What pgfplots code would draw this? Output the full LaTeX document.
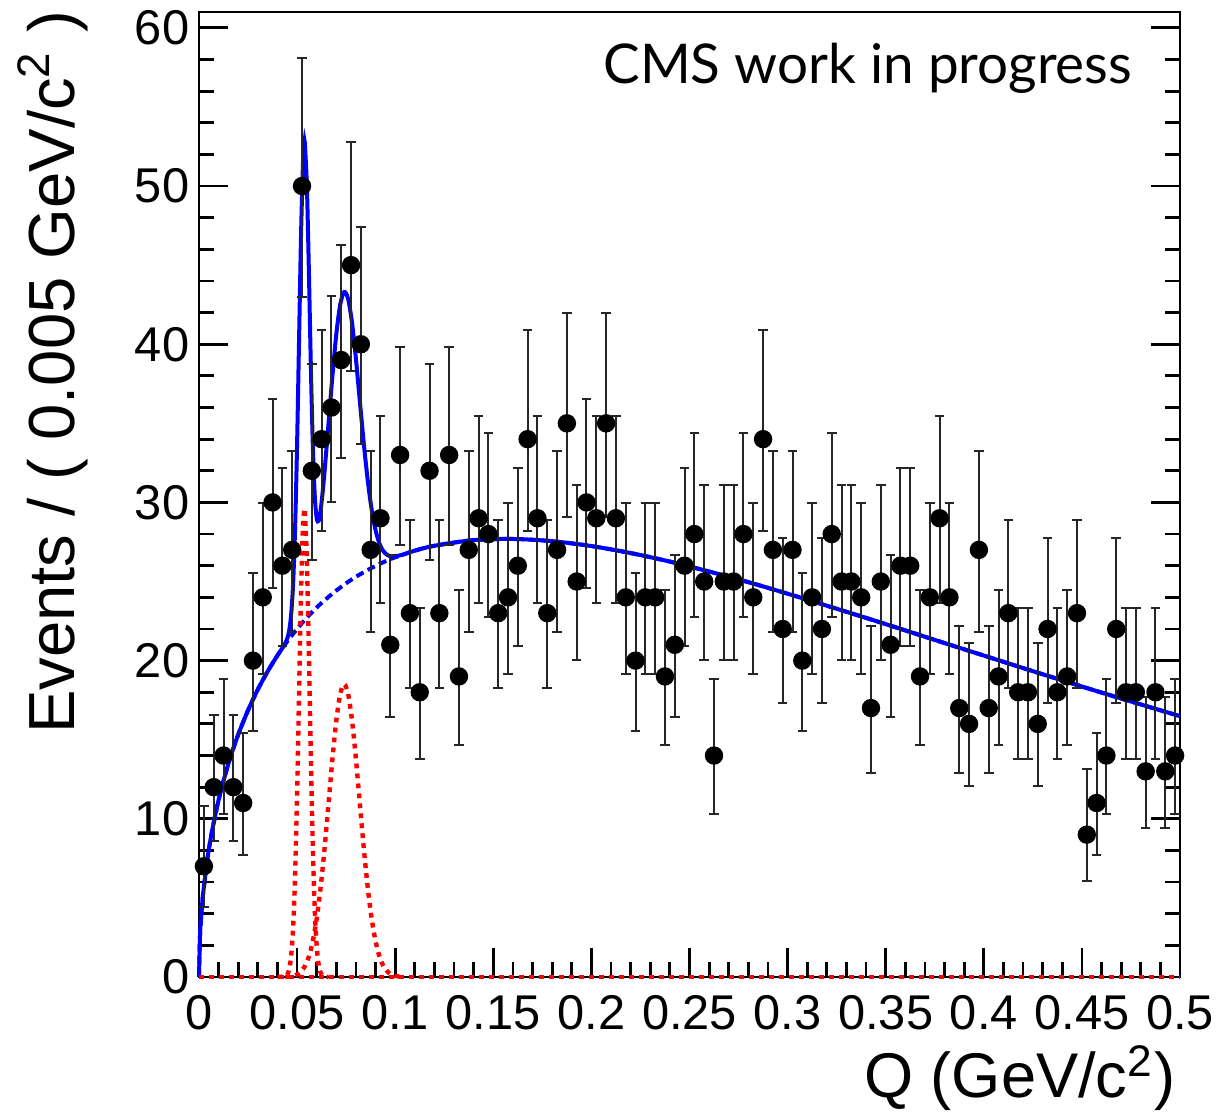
\documentclass[border=0pt]{standalone}
\usepackage{pgfplots}
\pgfplotsset{compat=1.18}
\usepackage{pgfplotstable}
\usepackage{fontspec}
\setmainfont{Liberation Sans}
\newfontfamily\gillfont{Lato}

\pgfplotstableread{
x y ep em
0.0025 7 3.78 2.58
0.0075 12 4.57 3.41
0.0125 14 4.84 3.69
0.0175 12 4.57 3.41
0.0225 11 4.43 3.26
0.0275 20 5.56 4.43
0.0325 24 5.97 4.86
0.0375 30 6.55 5.44
0.0425 26 6.17 5.06
0.0475 27 6.27 5.16
0.0525 50 8.12 7.04
0.0575 32 6.72 5.62
0.0625 34 6.89 5.80
0.0675 36 7.06 5.97
0.0725 39 7.30 6.22
0.0775 45 7.76 6.68
0.0825 40 7.38 6.30
0.0875 27 6.27 5.16
0.0925 29 6.45 5.35
0.0975 21 5.66 4.54
0.1025 33 6.81 5.71
0.1075 23 5.87 4.76
0.1125 18 5.33 4.20
0.1175 32 6.72 5.62
0.1225 23 5.87 4.76
0.1275 33 6.81 5.71
0.1325 19 5.44 4.32
0.1375 27 6.27 5.16
0.1425 29 6.45 5.35
0.1475 28 6.36 5.26
0.1525 23 5.87 4.76
0.1575 24 5.97 4.86
0.1625 26 6.17 5.06
0.1675 34 6.89 5.80
0.1725 29 6.45 5.35
0.1775 23 5.87 4.76
0.1825 27 6.27 5.16
0.1875 35 6.98 5.89
0.1925 25 6.07 4.96
0.1975 30 6.55 5.44
0.2025 29 6.45 5.35
0.2075 35 6.98 5.89
0.2125 29 6.45 5.35
0.2175 24 5.97 4.86
0.2225 20 5.56 4.43
0.2275 24 5.97 4.86
0.2325 24 5.97 4.86
0.2375 19 5.44 4.32
0.2425 21 5.66 4.54
0.2475 26 6.17 5.06
0.2525 28 6.36 5.26
0.2575 25 6.07 4.96
0.2625 14 4.84 3.69
0.2675 25 6.07 4.96
0.2725 25 6.07 4.96
0.2775 28 6.36 5.26
0.2825 24 5.97 4.86
0.2875 34 6.89 5.80
0.2925 27 6.27 5.16
0.2975 22 5.77 4.65
0.3025 27 6.27 5.16
0.3075 20 5.56 4.43
0.3125 24 5.97 4.86
0.3175 22 5.77 4.65
0.3225 28 6.36 5.26
0.3275 25 6.07 4.96
0.3325 25 6.07 4.96
0.3375 24 5.97 4.86
0.3425 17 5.21 4.08
0.3475 25 6.07 4.96
0.3525 21 5.66 4.54
0.3575 26 6.17 5.06
0.3625 26 6.17 5.06
0.3675 19 5.44 4.32
0.3725 24 5.97 4.86
0.3775 29 6.45 5.35
0.3825 24 5.97 4.86
0.3875 17 5.21 4.08
0.3925 16 5.09 3.95
0.3975 27 6.27 5.16
0.4025 17 5.21 4.08
0.4075 19 5.44 4.32
0.4125 23 5.87 4.76
0.4175 18 5.33 4.20
0.4225 18 5.33 4.20
0.4275 16 5.09 3.95
0.4325 22 5.77 4.65
0.4375 18 5.33 4.20
0.4425 19 5.44 4.32
0.4475 23 5.87 4.76
0.4525 9 4.12 2.94
0.4575 11 4.43 3.26
0.4625 14 4.84 3.69
0.4675 22 5.77 4.65
0.4725 18 5.33 4.20
0.4775 18 5.33 4.20
0.4825 13 4.71 3.55
0.4875 18 5.33 4.20
0.4925 13 4.71 3.55
0.4975 14 4.84 3.69
}\datatable

\begin{document}
\begin{tikzpicture}
\begin{axis}[
  at={(0,0)}, anchor=south west,
  scale only axis, width=245.25pt, height=241.25pt,
  xmin=0, xmax=0.5, ymin=0, ymax=61,
  xtick={0,0.05,0.1,0.15,0.2,0.25,0.3,0.35,0.4,0.45,0.5},
  xticklabels={0,0.05,0.1,0.15,0.2,0.25,0.3,0.35,0.4,0.45,0.5},
  ytick={0,10,20,30,40,50,60},
  yticklabels={0,10,20,30,40,50,60},
  minor x tick num=4, minor y tick num=4,
  xtick pos=left, ytick pos=both, yticklabel pos=left,
  tick align=inside,
  major tick length=7.3pt, minor tick length=3.7pt,
  axis line style={line width=0.7pt},
  every tick/.style={line width=0.7pt, black},
  tick label style={font=\fontsize{12.2}{14}\selectfont},
  /pgf/number format/assume math mode=true,
  xticklabel style={anchor=north, inner sep=0pt, yshift=-4.5pt},
  yticklabel style={anchor=east, inner sep=0pt, xshift=-2.25pt},
  clip=false,
]
% background (dashed)
\addplot[blue, line width=1pt, dash pattern=on 2pt off 1.2pt, smooth] coordinates {
(0,0) (0.0005,2.58) (0.001,3.64) (0.002,5.13) (0.004,7.21) (0.006,8.78) (0.009,10.65)
(0.012,12.18) (0.016,13.89) (0.02,15.33) (0.025,16.86) (0.03,18.18) (0.035,19.32)
(0.04,20.33) (0.045,21.22) (0.05,22.01) (0.055,22.72) (0.06,23.36) (0.065,23.92)
(0.07,24.43) (0.075,24.89) (0.08,25.30) (0.085,25.66) (0.09,25.99) (0.095,26.28)
(0.1,26.53) (0.11,26.95) (0.12,27.26) (0.14,27.62) (0.16,27.69) (0.18,27.55)
(0.2,27.24) (0.22,26.80) (0.24,26.26) (0.26,25.63) (0.28,24.96) (0.3,24.23)
(0.32,23.47) (0.34,22.70) (0.36,21.91) (0.38,21.11) (0.4,20.32) (0.42,19.53)
(0.44,18.75) (0.46,17.98) (0.48,17.23) (0.5,16.49)};
% total fit
\addplot[blue, line width=1pt, smooth] coordinates {
(0,0) (0.0005,2.58) (0.001,3.64) (0.002,5.13) (0.004,7.21) (0.006,8.78) (0.009,10.65)
(0.012,12.18) (0.016,13.89) (0.02,15.33) (0.025,16.86) (0.03,18.18) (0.035,19.32)
(0.04,20.33) (0.042,20.70) (0.044,21.10) (0.045,21.40) (0.046,21.92) (0.047,22.95)
(0.048,24.95) (0.049,28.45) (0.050,33.71) (0.051,40.29) (0.052,46.85) (0.053,51.45)
(0.0537,52.66) (0.054,52.59) (0.055,49.94) (0.056,44.66) (0.057,38.68) (0.058,33.66)
(0.059,30.44) (0.060,28.99) (0.061,28.84) (0.062,29.51) (0.063,30.63) (0.064,31.96)
(0.066,34.96) (0.068,37.99) (0.070,40.65) (0.072,42.51) (0.074,43.30) (0.076,42.87)
(0.078,41.35) (0.080,39.06) (0.082,36.37) (0.084,33.72) (0.086,31.40) (0.088,29.55)
(0.090,28.25) (0.092,27.39) (0.094,26.91) (0.096,26.68) (0.098,26.59) (0.100,26.60)
(0.102,26.64) (0.104,26.70) (0.11,26.95) (0.12,27.26) (0.14,27.62) (0.16,27.69)
(0.18,27.55) (0.2,27.24) (0.22,26.80) (0.24,26.26) (0.26,25.63) (0.28,24.96)
(0.3,24.23) (0.32,23.47) (0.34,22.70) (0.36,21.91) (0.38,21.11) (0.4,20.32)
(0.42,19.53) (0.44,18.75) (0.46,17.98) (0.48,17.23) (0.5,16.49)};
% signal components
\addplot[red, line width=1.1pt, dash pattern=on 1.2pt off 1.3pt] coordinates {(0,0) (0.5,0)};
\addplot[red, line width=1.1pt, dash pattern=on 1.2pt off 1.3pt, smooth] coordinates {
(0.040,0) (0.044,0.05) (0.045,0.16) (0.046,0.51) (0.047,1.36) (0.048,3.18) (0.049,6.48)
(0.050,11.54) (0.051,17.89) (0.052,24.20) (0.053,28.52) (0.0537,29.5) (0.054,29.32)
(0.055,26.27) (0.056,20.52) (0.057,13.98) (0.058,8.30) (0.059,4.30) (0.060,1.94)
(0.061,0.76) (0.062,0.26) (0.063,0.08) (0.064,0.02) (0.066,0)};
\addplot[red, line width=1.1pt, dash pattern=on 1.2pt off 1.3pt, smooth] coordinates {
(0.044,0.01) (0.046,0.03) (0.048,0.07) (0.050,0.16) (0.052,0.35) (0.054,0.69)
(0.056,1.29) (0.058,2.26) (0.060,3.69) (0.062,5.67) (0.064,8.13) (0.066,10.93)
(0.068,13.76) (0.070,16.22) (0.072,17.90) (0.074,18.5) (0.076,17.90) (0.078,16.22)
(0.080,13.76) (0.082,10.93) (0.084,8.13) (0.086,5.67) (0.088,3.69) (0.090,2.26)
(0.092,1.29) (0.094,0.69) (0.096,0.35) (0.098,0.16) (0.100,0.07) (0.102,0.03) (0.104,0)};
% data
\addplot[only marks, mark=*, mark size=2.1pt, black, mark options={fill=black, draw=black},
  error bars/.cd, y dir=both, y explicit, error mark=-,
  error bar style={line width=0.5pt, black!85},
  error mark options={rotate=90, mark size=1.2pt, line width=0.5pt, black!85}]
  table[x=x, y=y, y error plus=ep, y error minus=em]{\datatable};

\node[anchor=base east, inner sep=0pt, font=\gillfont\fontsize{13.7}{16}\selectfont]
  at ([xshift=-11.75pt, yshift=-17.75pt]rel axis cs:1,1) {CMS work in progress};
\node[rotate=90, anchor=base east, inner sep=0pt, font=\fontsize{16.3}{19}\selectfont]
  at ([xshift=-31pt, yshift=0.5pt]rel axis cs:0,1) {Events / ( 0.005 GeV/c\textsuperscript{2} )};
\node[anchor=base east, inner sep=0pt, font=\fontsize{15.8}{19}\selectfont]
  at ([xshift=-1pt, yshift=-30.2pt]rel axis cs:1,0) {Q (GeV/c\textsuperscript{2})};
\end{axis}
\pgfresetboundingbox
\path[use as bounding box] (-49.75pt,-34.5pt) rectangle (255.25pt,244.25pt);
\end{tikzpicture}
\end{document}
